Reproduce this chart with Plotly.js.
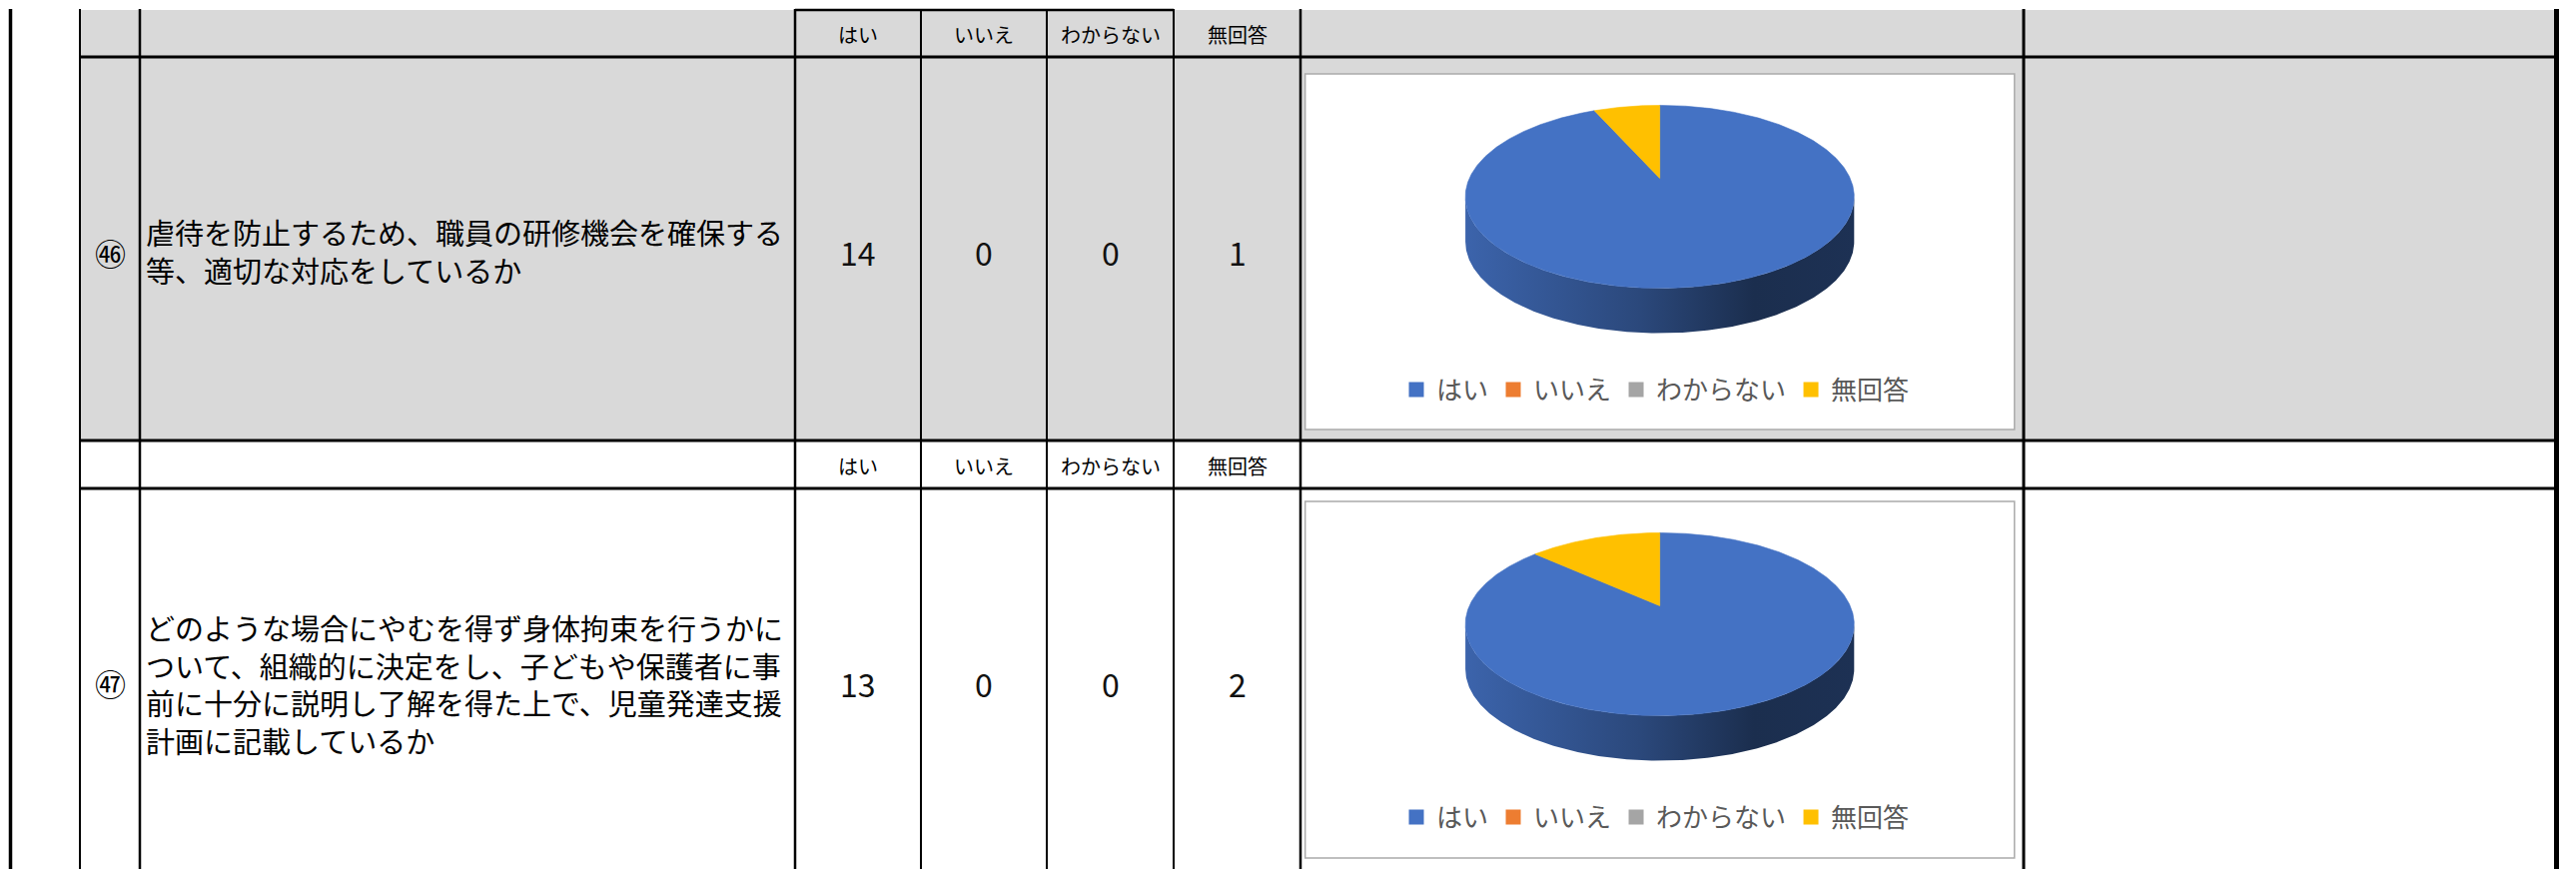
<!DOCTYPE html>
<html><head><meta charset="utf-8">
<script src="https://cdn.plot.ly/plotly-3.0.1.min.js"></script>
<style>html,body{margin:0;padding:0;background:#fff;overflow:hidden;} #chart{width:2579px;height:870px;}</style>
</head><body><div id="chart"></div>
<script>
// ---------------- data ----------------
const categories = ['はい', 'いいえ', 'わからない', '無回答'];
const questionNumbers = ['㊻', '㊼'];
const questionTexts = [
  '虐待を防止するため、職員の研修機会を確保する等、適切な対応をしているか',
  'どのような場合にやむを得ず身体拘束を行うかについて、組織的に決定をし、子どもや保護者に事前に十分に説明し了解を得た上で、児童発達支援計画に記載しているか'
];
const answersQ46 = [14, 0, 0, 1];
const answersQ47 = [13, 0, 0, 2];

// ---------------- style ----------------
const sliceColors = ['#4472c4', '#ed7d31', '#a5a5a5', '#ffc000'];
const W = 2579, H = 870;
const FONT = '"Noto Sans CJK JP", "Noto Sans", sans-serif';
const px = x => x / W, py = y => 1 - y / H;

function shade(hex, f) {
  const n = parseInt(hex.slice(1), 16);
  const r = Math.round(((n >> 16) & 255) * f), g = Math.round(((n >> 8) & 255) * f), b = Math.round((n & 255) * f);
  return 'rgb(' + r + ',' + g + ',' + b + ')';
}

// table geometry (pixels)
const valueCols = [796, 922, 1048, 1175, 1302];
const tableRows = [
  {top: 10, headBottom: 57, bottom: 441, chartTop: 74, chartBottom: 430, textOffset: 2, valOffset: 3},
  {top: 441, headBottom: 489, bottom: 870, chartTop: 502, chartBottom: 859, textOffset: 5, valOffset: 4}
];
const chartLeft = 1306.7, chartRight = 2016.8;

const shapes = [];
const annotations = [];
// gray background of first block
shapes.push({type: 'rect', xref: 'paper', yref: 'paper', x0: px(80), x1: px(2560), y0: py(441), y1: py(10),
  fillcolor: '#d9d9d9', line: {width: 0}, layer: 'below'});
// chart boxes
tableRows.forEach(r => {
  shapes.push({type: 'rect', xref: 'paper', yref: 'paper', x0: px(chartLeft), x1: px(chartRight), y0: py(r.chartBottom), y1: py(r.chartTop),
    fillcolor: '#ffffff', line: {width: 1.5, color: '#ababab'}, layer: 'below'});
});
function vline(x, w) {
  shapes.push({type: 'line', xref: 'paper', yref: 'paper', x0: px(x), x1: px(x), y0: py(870), y1: py(9), line: {color: '#000', width: w}});
}
function hline(y, x0, x1, w) {
  shapes.push({type: 'line', xref: 'paper', yref: 'paper', x0: px(x0), x1: px(x1), y0: py(y), y1: py(y), line: {color: '#000', width: w}});
}
vline(10.5, 3.5); vline(80, 2); vline(140, 2.5);
valueCols.forEach((x, i) => vline(x, (i === 0 || i === 4) ? 2.5 : 2));
vline(2026, 3); vline(2559.5, 5);
hline(57, 80, 2560, 3); hline(441, 80, 2560, 3); hline(489, 80, 2560, 3);
hline(10, 796, 1175, 2.5);

// table texts
const answerSets = [answersQ46, answersQ47];
tableRows.forEach((r, ri) => {
  const headY = (r.top + r.headBottom) / 2;
  const midY = (r.headBottom + r.bottom) / 2;
  categories.forEach((c, i) => {
    const cx = (valueCols[i] + valueCols[i + 1]) / 2;
    annotations.push({xref: 'paper', yref: 'paper', x: px(cx), y: py(headY + 1), text: c, showarrow: false,
      xanchor: 'center', yanchor: 'middle', font: {family: FONT, size: 20, color: '#000'}});
    annotations.push({xref: 'paper', yref: 'paper', x: px(cx), y: py(midY + r.valOffset), text: String(answerSets[ri][i]), showarrow: false,
      xanchor: 'center', yanchor: 'middle', font: {family: FONT, size: 32, color: '#111'}});
  });
  annotations.push({xref: 'paper', yref: 'paper', x: px(110), y: py(midY + r.valOffset), text: questionNumbers[ri], showarrow: false,
    xanchor: 'center', yanchor: 'middle', font: {family: FONT, size: 31, color: '#000'}});
  const lines = questionTexts[ri].match(/.{1,22}/g);
  annotations.push({xref: 'paper', yref: 'paper', x: px(144), y: py(midY + r.textOffset), text: lines.join('<br>'), showarrow: false,
    xanchor: 'left', yanchor: 'middle', align: 'left', font: {family: FONT, size: 29, color: '#000'}});
});

// ---------------- 3D-look pies ----------------
const G = {cx: 355, cy: 104.5, a: 87.8, b: 190.6, k: 0.202, depth: 45};
function proj(deg, dy) {
  const t = deg * Math.PI / 180, X = Math.sin(t), Y = Math.cos(t), w = 1 + G.k * Y;
  return [G.cx + G.b * X / w, G.cy - G.a * Y / w + (dy || 0)];
}
function pieTraces(values, xa, ya, legendId) {
  const total = values.reduce((s, v) => s + v, 0);
  const frontA = Math.acos(-G.k) * 180 / Math.PI, frontB = 360 - frontA;
  const sides = [], tops = [], legendItems = [];
  let start = 0;
  values.forEach((v, i) => {
    const sweep = v / total * 360, end = start + sweep;
    const col = sliceColors[i];
    if (v > 0) {
      const xs = [G.cx], ys = [G.cy];
      const n = Math.max(2, Math.ceil(sweep * 2));
      for (let j = 0; j <= n; j++) { const p = proj(start + sweep * j / n); xs.push(p[0]); ys.push(p[1]); }
      xs.push(G.cx); ys.push(G.cy);
      tops.push({type: 'scatter', mode: 'lines', x: xs, y: ys, fill: 'toself', fillcolor: col,
        line: {width: 0.6, color: col}, xaxis: xa, yaxis: ya, showlegend: false, hoverinfo: 'skip'});
      const s0 = Math.max(start, frontA), s1 = Math.min(end, frontB);
      if (s1 > s0) {
        const sx = [], sy = [];
        const m = Math.max(2, Math.ceil((s1 - s0) * 2));
        for (let j = 0; j <= m; j++) { const p = proj(s0 + (s1 - s0) * j / m); sx.push(p[0]); sy.push(p[1]); }
        for (let j = m; j >= 0; j--) { const p = proj(s0 + (s1 - s0) * j / m, G.depth); sx.push(p[0]); sy.push(p[1]); }
        sx.push(sx[0]); sy.push(sy[0]);
        sides.push({type: 'scatter', mode: 'lines', x: sx, y: sy, fill: 'toself', fillcolor: shade(col, 0.6),
          fillgradient: {type: 'horizontal', start: G.cx - G.b * 1.03, stop: G.cx + G.b * 1.03,
            colorscale: [[0, shade(col, 0.88)], [0.45, shade(col, 0.63)], [0.74, shade(col, 0.4)], [1, shade(col, 0.43)]]},
          line: {width: 0}, xaxis: xa, yaxis: ya, showlegend: false, hoverinfo: 'skip'});
      }
    }
    legendItems.push({type: 'scatter', mode: 'markers', x: [null], y: [null], name: categories[i],
      marker: {symbol: 'square', size: 15, color: col}, xaxis: xa, yaxis: ya, legend: legendId, showlegend: true, hoverinfo: 'skip'});
    start = end;
  });
  return sides.concat(tops, legendItems);
}

const data = pieTraces(answersQ46, 'x2', 'y2', 'legend').concat(pieTraces(answersQ47, 'x3', 'y3', 'legend2'));

const axisHidden = {visible: false, fixedrange: true, autorange: false, showgrid: false, zeroline: false};
const legendBase = {orientation: 'h', xanchor: 'left', yanchor: 'middle', x: px(1398),
  font: {family: FONT, size: 26, color: '#595959'}, bgcolor: 'rgba(0,0,0,0)', borderwidth: 0,
  itemclick: false, itemdoubleclick: false, traceorder: 'normal'};

const layout = {
  width: W, height: H, margin: {l: 0, r: 0, t: 0, b: 0, pad: 0},
  paper_bgcolor: '#ffffff', plot_bgcolor: 'rgba(0,0,0,0)',
  font: {family: FONT},
  showlegend: true,
  xaxis2: Object.assign({}, axisHidden, {domain: [px(chartLeft), px(chartRight)], range: [0, chartRight - chartLeft], anchor: 'y2'}),
  yaxis2: Object.assign({}, axisHidden, {domain: [py(430), py(74)], range: [356, 0], anchor: 'x2'}),
  xaxis3: Object.assign({}, axisHidden, {domain: [px(chartLeft), px(chartRight)], range: [0, chartRight - chartLeft], anchor: 'y3'}),
  yaxis3: Object.assign({}, axisHidden, {domain: [py(859), py(502)], range: [357, 0], anchor: 'x3'}),
  legend: Object.assign({}, legendBase, {y: py(390)}),
  legend2: Object.assign({}, legendBase, {y: py(818)}),
  shapes: shapes,
  annotations: annotations
};

Plotly.newPlot('chart', data, layout, {displayModeBar: false, staticPlot: true});
</script>
</body></html>
